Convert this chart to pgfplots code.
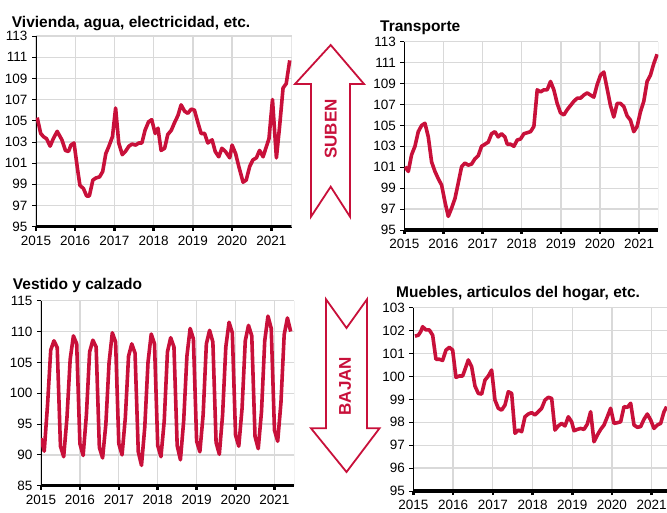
\documentclass[border=0pt]{standalone}
\usepackage{fontspec}
\setmainfont{Liberation Sans}
\usepackage{pgfplots}
\pgfplotsset{compat=1.18}
\definecolor{crim}{RGB}{200,16,58}
\definecolor{gridc}{RGB}{217,217,217}
\pgfplotsset{
  panel/.style={
    scale only axis, anchor=south west,
    xmin=2015, xmax=2021.52,
    xtick={2015,2016,2017,2018,2019,2020,2021},
    /pgf/number format/1000 sep={},
    /pgf/number format/assume math mode=true,
    axis x line*=bottom, axis y line*=left,
    x axis line style={black, line width=3.5pt},
    y axis line style={black, line width=0.8pt},
    xtick style={black, line width=2.5pt},
    ytick style={black, line width=0.8pt},
    major tick length=4pt, tick align=outside,
    grid=major, grid style={gridc, line width=1.3pt},
    ticklabel style={font=\fontsize{13.5}{15}\selectfont},
    xticklabel style={yshift=-2pt},
    yticklabel style={xshift=-1pt},
    clip=true,
  },
  ser/.style={crim, line width=3.6pt, line join=round, mark=none},
}
\begin{document}
\begin{tikzpicture}
\clip (0,0) rectangle (667pt,512pt);
% ---------- Panel 1: Vivienda
\begin{axis}[panel, at={(36pt,285.3pt)}, width=255.7pt, height=190.7pt,
  ymin=95, ymax=113, ytick={95,97,...,113}]
\draw[gridc, line width=1.5pt] (rel axis cs:1,0) -- (rel axis cs:1,1);
\addplot[ser] table {
x y
2015.03 105.3
2015.12 103.8
2015.19 103.5
2015.27 103.3
2015.36 102.6
2015.44 103.3
2015.54 104.0
2015.66 103.2
2015.75 102.2
2015.83 102.1
2015.89 102.7
2015.97 102.9
2016.06 100.4
2016.12 98.9
2016.21 98.6
2016.29 97.9
2016.36 97.9
2016.45 99.4
2016.53 99.6
2016.62 99.7
2016.70 100.2
2016.78 101.9
2016.86 102.6
2016.95 103.5
2017.03 106.2
2017.11 102.9
2017.20 101.8
2017.28 102.1
2017.37 102.6
2017.45 102.8
2017.54 102.7
2017.62 102.9
2017.70 102.9
2017.78 104.1
2017.87 104.9
2017.95 105.1
2018.04 103.8
2018.11 104.3
2018.19 102.2
2018.28 102.4
2018.36 103.7
2018.45 104.1
2018.53 104.8
2018.62 105.5
2018.70 106.5
2018.79 105.9
2018.87 105.7
2018.96 106.1
2019.04 106.0
2019.13 104.8
2019.21 103.8
2019.30 103.8
2019.38 102.9
2019.49 103.2
2019.57 102.1
2019.66 101.6
2019.74 102.4
2019.83 102.1
2019.94 101.5
2020.00 102.7
2020.09 101.9
2020.17 100.7
2020.28 99.2
2020.36 99.4
2020.45 100.7
2020.53 101.3
2020.62 101.5
2020.70 102.2
2020.79 101.6
2020.86 102.4
2020.94 103.3
2021.03 107.0
2021.13 101.5
2021.21 104.4
2021.30 108.1
2021.38 108.5
2021.47 110.7
};
\end{axis}
% ---------- Panel 2: Transporte
\begin{axis}[panel, at={(404.3pt,282pt)}, width=254pt, height=188.3pt,
  xmax=2021.49, ymin=95, ymax=113, ytick={95,97,...,113}]
\draw[gridc, line width=1.5pt] (rel axis cs:1,0) -- (rel axis cs:1,1);
\addplot[ser] table {
x y
2015.017 101.05
2015.102 100.6
2015.187 102.2
2015.272 103.0
2015.357 104.4
2015.443 105.0
2015.528 105.2
2015.613 103.9
2015.698 101.5
2015.783 100.6
2015.868 99.9
2015.953 99.3
2016.038 97.7
2016.123 96.3
2016.209 97.1
2016.294 98.0
2016.379 99.5
2016.464 101.05
2016.549 101.4
2016.634 101.2
2016.719 101.3
2016.804 101.8
2016.889 102.1
2016.974 103.0
2017.060 103.2
2017.145 103.4
2017.230 104.2
2017.315 104.4
2017.400 103.9
2017.485 104.2
2017.570 103.9
2017.630 103.2
2017.715 103.2
2017.800 103.0
2017.885 103.6
2017.970 103.7
2018.055 104.2
2018.140 104.3
2018.226 104.4
2018.311 104.9
2018.396 108.4
2018.481 108.2
2018.566 108.4
2018.651 108.4
2018.736 109.2
2018.821 108.4
2018.906 107.1
2018.991 106.2
2019.077 106.0
2019.162 106.5
2019.247 106.9
2019.332 107.3
2019.417 107.6
2019.502 107.6
2019.587 107.9
2019.672 108.1
2019.757 107.9
2019.843 107.7
2019.928 108.9
2020.013 109.8
2020.098 110.1
2020.183 108.5
2020.268 106.9
2020.353 105.8
2020.438 107.1
2020.523 107.1
2020.609 106.8
2020.694 105.9
2020.779 105.5
2020.864 104.4
2020.949 104.9
2021.034 106.3
2021.119 107.3
2021.204 109.2
2021.289 109.8
2021.374 110.9
2021.460 111.8
};
\end{axis}
% ---------- Panel 3: Vestido y calzado
\begin{axis}[panel, at={(41pt,26.3pt)}, width=253.3pt, height=185pt,
  xmax=2021.51, ymin=85, ymax=115, ytick={85,90,...,115}]
\draw[gridc, line width=1.5pt] (rel axis cs:1,0) -- (rel axis cs:1,1);
\addplot[ser] table {
x y
2015.000 92.7
2015.083 90.6
2015.167 98.0
2015.250 107.0
2015.333 108.5
2015.417 107.4
2015.500 91.4
2015.583 89.7
2015.667 96.0
2015.750 105.5
2015.833 109.3
2015.917 108.0
2016.000 91.8
2016.083 89.9
2016.167 96.5
2016.250 106.7
2016.333 108.6
2016.417 107.5
2016.500 91.2
2016.583 89.5
2016.667 95.0
2016.750 105.0
2016.833 109.8
2016.917 108.3
2017.000 91.8
2017.083 90.0
2017.167 96.0
2017.250 106.0
2017.333 108.0
2017.417 106.5
2017.500 90.5
2017.583 88.3
2017.667 94.5
2017.750 105.0
2017.833 109.6
2017.917 108.0
2018.000 91.5
2018.083 89.7
2018.167 95.5
2018.250 106.7
2018.333 109.0
2018.417 107.5
2018.500 91.5
2018.583 89.2
2018.667 95.5
2018.750 106.0
2018.833 110.5
2018.917 108.8
2019.000 92.2
2019.083 90.5
2019.167 96.5
2019.250 108.0
2019.333 110.2
2019.417 108.3
2019.500 92.0
2019.583 90.1
2019.667 96.5
2019.750 107.5
2019.833 111.5
2019.917 109.8
2020.000 93.2
2020.083 91.4
2020.167 97.5
2020.250 108.5
2020.333 111.0
2020.417 109.3
2020.500 93.0
2020.583 91.0
2020.667 97.0
2020.750 108.5
2020.833 112.5
2020.917 110.5
2021.000 94.0
2021.083 92.2
2021.167 98.5
2021.250 109.5
2021.333 112.2
2021.417 110.0
};
\end{axis}
% ---------- Panel 4: Muebles
\begin{axis}[panel, at={(413.3pt,21pt)}, width=258.3pt, height=183.3pt,
  xmax=2021.5, ymin=95, ymax=103, ytick={95,96,...,103}]
\draw[gridc, line width=1.5pt] (rel axis cs:1,0) -- (rel axis cs:1,1);
\addplot[ser] table {
x y
2015.042 101.76
2015.126 101.80
2015.185 101.95
2015.235 102.17
2015.319 102.03
2015.403 102.03
2015.487 101.80
2015.570 100.75
2015.654 100.75
2015.738 100.70
2015.822 101.15
2015.906 101.27
2015.990 101.15
2016.074 99.96
2016.158 100.02
2016.242 100.02
2016.326 100.43
2016.384 100.72
2016.468 100.43
2016.552 99.58
2016.636 99.26
2016.720 99.23
2016.804 99.84
2016.888 100.02
2016.971 100.28
2017.055 98.97
2017.139 98.61
2017.223 98.53
2017.307 98.75
2017.391 99.33
2017.475 99.26
2017.559 97.52
2017.643 97.66
2017.727 97.59
2017.810 98.24
2017.894 98.36
2017.978 98.42
2018.062 98.32
2018.146 98.46
2018.230 98.61
2018.314 98.97
2018.398 99.09
2018.482 99.04
2018.565 97.66
2018.649 97.84
2018.733 97.95
2018.817 97.84
2018.901 98.24
2018.985 98.02
2019.044 97.63
2019.128 97.69
2019.211 97.73
2019.295 97.69
2019.379 97.92
2019.463 98.46
2019.547 97.15
2019.631 97.44
2019.715 97.69
2019.799 97.88
2019.883 98.24
2019.966 98.61
2020.050 97.95
2020.134 97.98
2020.218 98.02
2020.302 98.68
2020.386 98.65
2020.470 98.83
2020.554 97.88
2020.638 97.78
2020.721 97.81
2020.805 98.13
2020.889 98.36
2020.973 98.10
2021.057 97.73
2021.141 97.88
2021.225 97.95
2021.309 98.46
2021.376 98.68
};
\end{axis}
% ---------- Titles
\node[anchor=base west, inner sep=0pt, font=\bfseries\fontsize{15.5}{18}\selectfont] at (11.7pt,484.5pt) {Vivienda, agua, electricidad, etc.};
\node[anchor=base west, inner sep=0pt, font=\bfseries\fontsize{15.5}{18}\selectfont] at (380pt,480.3pt) {Transporte};
\node[anchor=base west, inner sep=0pt, font=\bfseries\fontsize{15.5}{18}\selectfont] at (12.7pt,222pt) {Vestido y calzado};
\node[anchor=base west, inner sep=0pt, font=\bfseries\fontsize{15.5}{18}\selectfont] at (396pt,214.7pt) {Muebles, articulos del hogar, etc.};
% ---------- Arrows
\draw[crim, line width=1.8pt, line join=miter]
  (330.7pt,467pt) -- (364pt,428pt) -- (350pt,428pt) -- (350pt,295.3pt)
  -- (330.7pt,325.3pt) -- (311pt,295.3pt) -- (311pt,428pt) -- (295pt,428pt) -- cycle;
\node[crim, rotate=90, font=\bfseries\fontsize{17}{19}\selectfont] at (330.7pt,383pt) {SUBEN};
\draw[crim, line width=1.8pt, line join=miter]
  (326pt,212.7pt) -- (346.5pt,184pt) -- (367pt,212.7pt) -- (367pt,83.7pt)
  -- (379.5pt,83.7pt) -- (346.5pt,40pt) -- (311pt,83.7pt) -- (326pt,83.7pt) -- cycle;
\node[crim, rotate=90, font=\bfseries\fontsize{17}{19}\selectfont] at (345pt,126pt) {BAJAN};
\end{tikzpicture}
\end{document}
